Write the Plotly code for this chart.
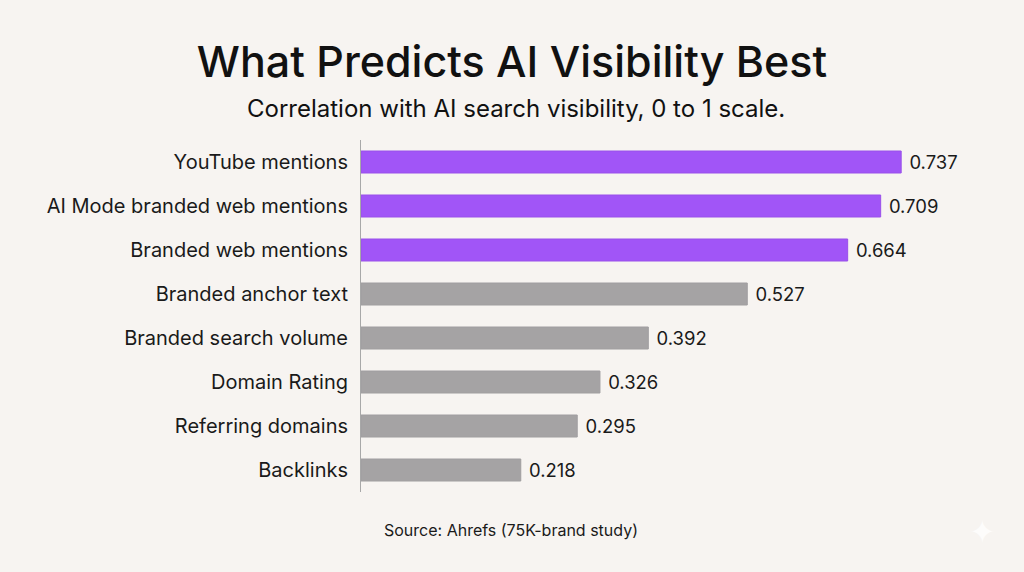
import plotly.graph_objects as go

# Data
factors = [
    "YouTube mentions",
    "AI Mode branded web mentions",
    "Branded web mentions",
    "Branded anchor text",
    "Branded search volume",
    "Domain Rating",
    "Referring domains",
    "Backlinks",
]
correlation = [0.737, 0.709, 0.664, 0.527, 0.392, 0.326, 0.295, 0.218]
highlighted = [True, True, True, False, False, False, False, False]

PURPLE = "#a155f7"
GRAY = "#a5a3a4"
BG = "#f7f4f1"
FONT = "Inter, Roboto, sans-serif"

# plot area in pixels (left edge, top, bottom, width)
L, T, B = 361, 140, 492
W = 623
H = B - T


def px_x(x):
    return (x - L) / W


def px_y(y):
    return (B - y) / H


bar_colors = [PURPLE if h else GRAY for h in highlighted]
line_colors = ["#9950ea" if h else "#a09ea0" for h in highlighted]

fig = go.Figure()

fig.add_trace(
    go.Bar(
        x=correlation,
        y=factors,
        orientation="h",
        marker=dict(color=bar_colors, line=dict(color=line_colors, width=1)),
        text=[f"{v:.3f}" for v in correlation],
        texttemplate=" %{text}",
        textposition="outside",
        textfont=dict(family=FONT, size=21, color="#1a1a1a"),
        cliponaxis=False,
        hovertemplate="%{y}: %{x:.3f}<extra></extra>",
    )
)

fig.update_yaxes(
    autorange="reversed",
    showline=True,
    linecolor="#a8a8a8",
    linewidth=1,
    showgrid=False,
    ticks="",
    ticklabelstandoff=8,
    tickfont=dict(family=FONT, size=20, color="#1a1a1a"),
)
fig.update_xaxes(
    range=[0, 0.85],
    visible=False,
    showgrid=False,
    zeroline=False,
)

fig.update_layout(
    width=1024,
    height=572,
    margin=dict(l=L, r=1024 - L - W, t=T, b=572 - B),
    paper_bgcolor=BG,
    plot_bgcolor=BG,
    bargap=0.5,
    showlegend=False,
    title=dict(
        text="What Predicts AI Visibility Best",
        x=0.5,
        xanchor="center",
        y=1 - 62 / 572,
        yanchor="middle",
        font=dict(family=FONT, size=43, color="#111111", weight=500),
    ),
    annotations=[
        dict(
            text="Correlation with AI search visibility, 0 to 1 scale.",
            xref="paper", yref="paper",
            x=px_x(516), y=px_y(108),
            xanchor="center", yanchor="middle",
            showarrow=False,
            font=dict(family=FONT, size=24, color="#111111"),
        ),
        dict(
            text="Source: Ahrefs (75K-brand study)",
            xref="paper", yref="paper",
            x=px_x(511), y=px_y(530),
            xanchor="center", yanchor="middle",
            showarrow=False,
            font=dict(family=FONT, size=16, color="#1a1a1a"),
        ),
        dict(
            text="✦",
            xref="paper", yref="paper",
            x=px_x(982), y=px_y(532),
            xanchor="center", yanchor="middle",
            showarrow=False,
            font=dict(family="DejaVu Sans", size=32, color="rgba(255,255,255,0.75)"),
        ),
    ],
)

fig.write_html(
    "out.html",
    config={"displayModeBar": False},
    post_script="document.body.style.margin='0';document.body.style.background='#f7f4f1';",
)
